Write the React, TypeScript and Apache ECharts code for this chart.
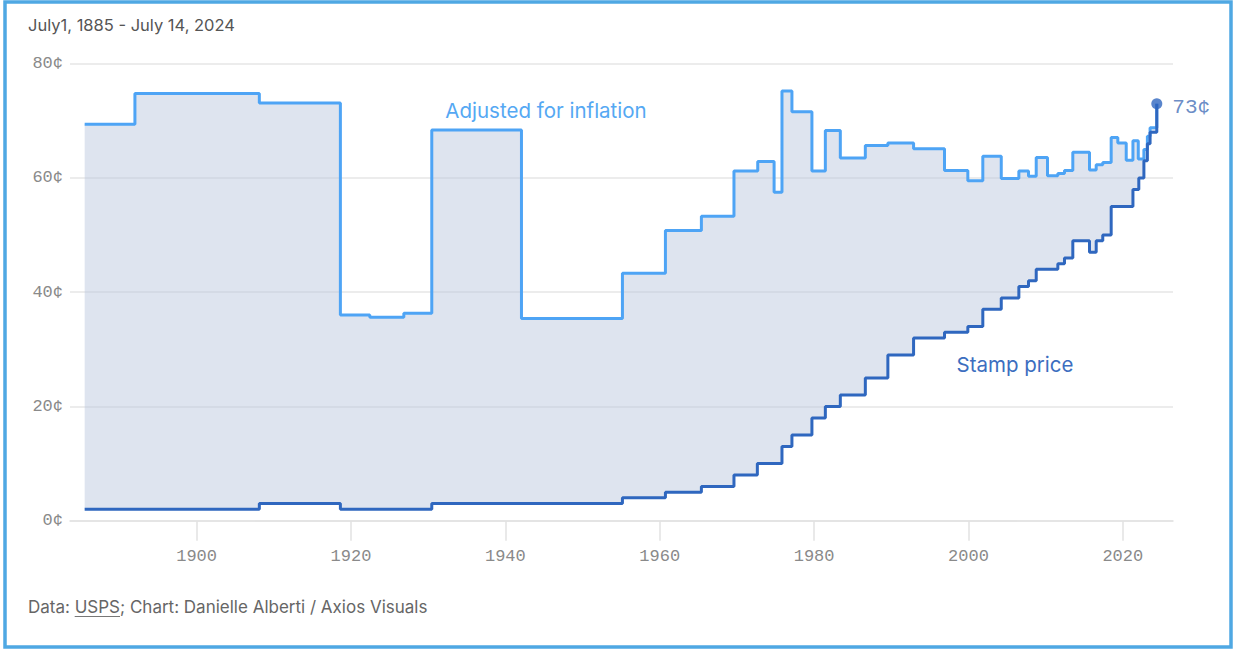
import React, { useEffect, useRef } from "react";
import * as echarts from "echarts";

// ---- data ----
const xTickYears = [1900, 1920, 1940, 1960, 1980, 2000, 2020];
const yTickCents = [0, 20, 40, 60, 80];

// first-class stamp price, cents (each value holds from its year until the next one)
const stampYears = [
  1885.5, 1908.13, 1918.63, 1930.47, 1955.17, 1960.74, 1965.4, 1969.62, 1972.65, 1975.84,
  1977.13, 1979.72, 1981.46, 1983.4, 1986.64, 1989.56, 1992.89, 1996.9, 1999.92, 2001.86,
  2004.25, 2006.53, 2007.78, 2008.78, 2011.58, 2012.44, 2013.52, 2015.68, 2016.55, 2017.4,
  2018.49, 2021.31, 2022.07, 2022.73, 2023.18, 2023.53, 2024.4,
];
const stampCents = [
  2, 3, 2, 3, 4, 5, 6, 8, 10, 13,
  15, 18, 20, 22, 25, 29, 32, 33, 34, 37,
  39, 41, 42, 44, 45, 46, 49, 47, 49, 50,
  55, 58, 60, 63, 66, 68, 73,
];

// price adjusted for inflation, cents
const adjustedYears = [
  1885.5, 1892.01, 1908.13, 1918.63, 1922.44, 1926.85, 1930.47, 1942.09, 1955.17, 1960.74,
  1965.4, 1969.62, 1972.7, 1974.82, 1975.84, 1977.13, 1979.72, 1981.46, 1983.4, 1986.64,
  1989.56, 1992.89, 1996.9, 1999.92, 2001.86, 2004.25, 2006.53, 2007.78, 2008.78, 2010.24,
  2011.58, 2012.44, 2013.52, 2015.68, 2016.55, 2017.4, 2018.49, 2019.35, 2020.44, 2021.31,
  2022.0, 2022.73, 2023.18, 2023.53, 2024.4,
];
const adjustedCents = [
  69.4, 74.8, 73.1, 36.0, 35.6, 36.3, 68.4, 35.4, 43.3, 50.8,
  53.3, 61.2, 62.9, 57.5, 75.2, 71.6, 61.2, 68.3, 63.5, 65.7,
  66.1, 65.1, 61.3, 59.5, 63.8, 59.9, 61.2, 60.3, 63.6, 60.4,
  60.8, 61.3, 64.5, 61.4, 62.3, 62.7, 67.1, 66.1, 63.1, 66.5,
  63.3, 65.0, 67.3, 68.8, 73,
];

const endLabelSuffix = "¢";

const ADJ_COLOR = "#4ea4f5";
const STAMP_COLOR = "#2f67bf";
const MONO = "'Liberation Mono', 'DejaVu Sans Mono', monospace";
const SANS = "Inter, 'Noto Sans', sans-serif";

const FOOT_A = "Data: ";
const FOOT_LINK = "USPS";
const FOOT_B = "; Chart: Danielle Alberti / Axios Visuals";
const FOOT_SIZE = 17;

function stepPoints(xs: number[], ys: number[]): number[][] {
  const pts: number[][] = [];
  for (let i = 0; i < xs.length; i++) {
    pts.push([xs[i], ys[i]]);
    if (i < xs.length - 1) pts.push([xs[i + 1], ys[i]]);
  }
  return pts;
}

function measure(text: string, font: string): number {
  const c = document.createElement("canvas").getContext("2d");
  if (!c) return text.length * 8;
  c.font = font;
  return c.measureText(text).width;
}

export default function App() {
  const ref = useRef<HTMLDivElement>(null);

  useEffect(() => {
    if (!ref.current) return;
    const chart = echarts.init(ref.current, undefined, { renderer: "svg" });

    const stampData = stampYears.map((y, i) => [y, stampCents[i]]);
    const adjustedData = adjustedYears.map((y, i) => [y, adjustedCents[i]]);
    const last = stampData[stampData.length - 1];

    const footFont = `${FOOT_SIZE}px ${SANS}`;
    const wA = measure(FOOT_A, footFont);
    const wLink = measure(FOOT_LINK, footFont);
    const footX = 28;

    chart.setOption({
      animation: false,
      backgroundColor: "#ffffff",
      grid: { left: 70, right: 63, top: 63.7, bottom: 129.3, containLabel: false },
      xAxis: {
        type: "value",
        min: 1883.6,
        max: 2026.5,
        splitLine: { show: false },
        axisLine: { show: true, lineStyle: { color: "#e2e2e2", width: 1.5 } },
        axisTick: {
          show: true,
          length: 20,
          customValues: xTickYears,
          lineStyle: { color: "#e2e2e2", width: 1.5 },
        },
        axisLabel: {
          customValues: xTickYears,
          margin: 27,
          fontFamily: MONO,
          fontSize: 17,
          color: "#8a8a8a",
          formatter: (v: number) => String(v),
        },
      },
      yAxis: {
        type: "value",
        min: 0,
        max: 80,
        interval: 20,
        axisLine: { show: false },
        axisTick: { show: false },
        splitLine: { show: true, lineStyle: { color: "#e6e6e6", width: 1.5 } },
        axisLabel: {
          margin: 7,
          fontFamily: MONO,
          fontSize: 17,
          color: "#8a8a8a",
          formatter: (v: number) => (yTickCents.includes(v) ? `${v}¢` : ""),
        },
      },
      series: [
        {
          type: "custom",
          z: 1,
          silent: true,
          clip: false,
          data: [[1950, 40]],
          renderItem: (params: any, api: any) => {
            const upper = stepPoints(adjustedYears, adjustedCents).map((p) => api.coord(p));
            const lower = stepPoints(stampYears, stampCents)
              .map((p) => api.coord(p))
              .reverse();
            return {
              type: "polygon",
              shape: { points: upper.concat(lower) },
              style: { fill: "rgba(182,197,220,0.46)" },
            };
          },
        },
        {
          type: "line",
          name: "Adjusted for inflation",
          step: "end",
          z: 3,
          data: adjustedData,
          showSymbol: false,
          symbol: "none",
          lineStyle: { color: ADJ_COLOR, width: 3 },
        },
        {
          type: "line",
          name: "Stamp price",
          step: "end",
          z: 4,
          data: stampData,
          showSymbol: false,
          symbol: "none",
          lineStyle: { color: STAMP_COLOR, width: 3 },
        },
        {
          type: "scatter",
          z: 5,
          data: [last],
          symbolSize: 11,
          itemStyle: { color: STAMP_COLOR },
          label: {
            show: true,
            position: "right",
            distance: 10,
            offset: [0, 4],
            fontFamily: MONO,
            fontSize: 21,
            color: "#456fb8",
            formatter: (p: any) => `${p.value[1]}${endLabelSuffix}`,
          },
        },
      ],
      graphic: [
        {
          type: "rect",
          silent: true,
          shape: { x: 5, y: 2, width: 1226, height: 645 },
          style: { fill: "none", stroke: "#4fa8e3", lineWidth: 3.5 },
          z: 10,
        },
        {
          type: "text",
          x: 28,
          y: 25,
          style: {
            text: "July1, 1885 - July 14, 2024",
            fontFamily: SANS,
            fontSize: 16.5,
            fill: "#555555",
            verticalAlign: "middle",
          },
        },
        {
          type: "text",
          x: 546,
          y: 110.7,
          style: {
            text: "Adjusted for inflation",
            fontFamily: SANS,
            fontSize: 20.5,
            fill: "#55a8f3",
            align: "center",
            verticalAlign: "middle",
          },
        },
        {
          type: "text",
          x: 1015,
          y: 364.3,
          style: {
            text: "Stamp price",
            fontFamily: SANS,
            fontSize: 20.5,
            fill: "#3c6ec0",
            align: "center",
            verticalAlign: "middle",
          },
        },
        {
          type: "text",
          x: footX,
          y: 606.7,
          style: {
            text: FOOT_A,
            fontFamily: SANS,
            fontSize: FOOT_SIZE,
            fill: "#666666",
            verticalAlign: "middle",
          },
        },
        {
          type: "text",
          x: footX + wA,
          y: 606.7,
          style: {
            text: FOOT_LINK,
            fontFamily: SANS,
            fontSize: FOOT_SIZE,
            fill: "#666666",
            verticalAlign: "middle",
          },
        },
        {
          type: "text",
          x: footX + wA + wLink,
          y: 606.7,
          style: {
            text: FOOT_B,
            fontFamily: SANS,
            fontSize: FOOT_SIZE,
            fill: "#666666",
            verticalAlign: "middle",
          },
        },
        {
          type: "line",
          silent: true,
          shape: { x1: footX + wA, y1: 616.5, x2: footX + wA + wLink, y2: 616.5 },
          style: { stroke: "#777777", lineWidth: 1.2 },
        },
      ],
    });

    return () => chart.dispose();
  }, []);

  return (
    <div
      ref={ref}
      style={{ position: "fixed", left: 0, top: 0, width: 1236, height: 650 }}
    />
  );
}
